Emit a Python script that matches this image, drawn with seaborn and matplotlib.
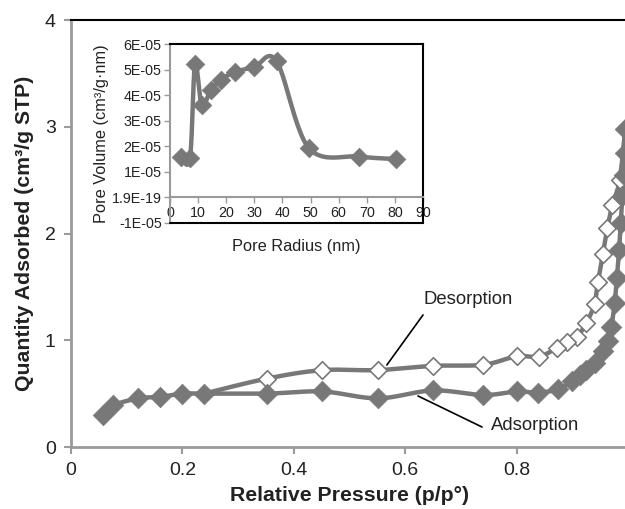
import numpy as np
import pandas as pd
import matplotlib
matplotlib.use("Agg")
import matplotlib.pyplot as plt
import seaborn as sns
from matplotlib.ticker import FixedLocator, FixedFormatter

sns.set_theme(style="white")
plt.rcParams['font.family'] = ['Liberation Sans', 'DejaVu Sans']

# ---- main isotherm data ----
ads_x = [0.058, 0.076, 0.121, 0.16, 0.2, 0.239, 0.351, 0.451, 0.551, 0.65, 0.74, 0.80,
         0.838, 0.874, 0.90, 0.913, 0.925, 0.94, 0.955, 0.964, 0.97, 0.976, 0.980,
         0.984, 0.987, 0.990, 0.992, 0.994, 0.995]
ads_y = [0.30, 0.39, 0.456, 0.47, 0.50, 0.50, 0.50, 0.52, 0.456, 0.53, 0.487, 0.52,
         0.51, 0.54, 0.62, 0.67, 0.72, 0.79, 0.90, 0.99, 1.12, 1.35, 1.58,
         1.85, 2.1, 2.35, 2.55, 2.75, 2.98]
des_x = [0.995, 0.985, 0.972, 0.963, 0.955, 0.946, 0.94, 0.925, 0.908, 0.89, 0.873,
         0.84, 0.80, 0.74, 0.65, 0.551, 0.451, 0.351, 0.239]
des_y = [2.98, 2.50, 2.27, 2.05, 1.81, 1.55, 1.34, 1.16, 1.03, 0.98, 0.93,
         0.846, 0.85, 0.77, 0.76, 0.72, 0.72, 0.64, 0.50]
main_xticks = [0, 0.2, 0.4, 0.6, 0.8]
main_xticklabels = ["0", "0.2", "0.4", "0.6", "0.8"]
main_yticks = [0, 1, 2, 3, 4]
main_yticklabels = ["0", "1", "2", "3", "4"]

# ---- inset pore-size distribution ----
pore_r = [3.8, 7.1, 8.9, 11.3, 14.5, 18.1, 23.0, 30.0, 37.9, 49.4, 67.3, 80.4]
pore_v = [1.6e-5, 1.53e-5, 5.2e-5, 3.6e-5, 4.2e-5, 4.6e-5, 4.9e-5, 5.1e-5, 5.33e-5,
          1.93e-5, 1.6e-5, 1.5e-5]
inset_xticks = [0, 10, 20, 30, 40, 50, 60, 70, 80, 90]
inset_yticks = [-1e-5, 0, 1e-5, 2e-5, 3e-5, 4e-5, 5e-5, 6e-5]
inset_yticklabels = ["-1E-05", "1.9E-19", "1E-05", "2E-05", "3E-05", "4E-05", "5E-05", "6E-05"]

GRAY = "#787878"
AXGRAY = "#9a9a9a"
TXT = "#222222"


def smooth(xs, ys, sx, sy, n=24):
    """Catmull-Rom style smoothing (Excel 'smoothed line' look)."""
    P = np.column_stack([np.asarray(xs) / sx, np.asarray(ys) / sy])
    P = np.vstack([P[0], P, P[-1]])
    out = []
    for i in range(1, len(P) - 2):
        p0, p1, p2, p3 = P[i - 1], P[i], P[i + 1], P[i + 2]
        c1 = p1 + (p2 - p0) / 6
        c2 = p2 - (p3 - p1) / 6
        t = np.linspace(0, 1, n)[:, None]
        seg = ((1 - t) ** 3) * p1 + 3 * ((1 - t) ** 2) * t * c1 + 3 * (1 - t) * t ** 2 * c2 + t ** 3 * p2
        out.append(seg if i == 1 else seg[1:])
    S = np.vstack(out)
    return S[:, 0] * sx, S[:, 1] * sy


fig = plt.figure(figsize=(6.25, 5.09), dpi=100)
ax = fig.add_axes([71 / 625, 62 / 509, 557 / 625, 427 / 509])

# desorption
dsx, dsy = smooth(des_x, des_y, 1.0, 4.0)
sns.lineplot(x=dsx, y=dsy, ax=ax, sort=False, color=GRAY, lw=3.2, estimator=None)
sns.scatterplot(x=des_x[:-1], y=des_y[:-1], ax=ax, marker="D", s=80, facecolor="white",
                edgecolor=GRAY, linewidth=1.2, zorder=3)
# adsorption
asx, asy = smooth(ads_x, ads_y, 1.0, 4.0)
sns.lineplot(x=asx, y=asy, ax=ax, sort=False, color=GRAY, lw=3.2, estimator=None)
sns.scatterplot(x=ads_x, y=ads_y, ax=ax, marker="D", s=110, color=GRAY,
                edgecolor=GRAY, linewidth=0.5, zorder=4)

ax.set_xlim(0, 1.0)
ax.set_ylim(0, 4)
ax.xaxis.set_major_locator(FixedLocator(main_xticks))
ax.xaxis.set_major_formatter(FixedFormatter(main_xticklabels))
ax.yaxis.set_major_locator(FixedLocator(main_yticks))
ax.yaxis.set_major_formatter(FixedFormatter(main_yticklabels))
ax.tick_params(axis="both", direction="out", length=5, width=1.5, color=AXGRAY,
               labelsize=14, labelcolor=TXT, pad=6, bottom=True, left=True)
for s in ["left", "bottom"]:
    ax.spines[s].set_color(AXGRAY)
    ax.spines[s].set_linewidth(2)
ax.spines["top"].set_color("black")
ax.spines["top"].set_linewidth(1.5)
ax.spines["right"].set_visible(False)
ax.set_xlabel("Relative Pressure (p/p°)", fontsize=15.3, fontweight="bold", color=TXT, labelpad=5)
ax.set_ylabel("Quantity Adsorbed (cm³/g STP)", fontsize=15.3, fontweight="bold", color=TXT, labelpad=8)

# annotations
ax.text(0.713, 1.386, "Desorption", fontsize=13.3, ha="center", va="center", color=TXT)
ax.annotate("", xy=(0.567, 0.768), xytext=(0.632, 1.237),
            arrowprops=dict(arrowstyle="-", color="black", lw=1.2, shrinkA=0, shrinkB=0))
ax.text(0.833, 0.206, "Adsorption", fontsize=13.3, ha="center", va="center", color=TXT)
ax.annotate("", xy=(0.623, 0.478), xytext=(0.738, 0.187),
            arrowprops=dict(arrowstyle="-", color="black", lw=1.2, shrinkA=0, shrinkB=0))

# ---- inset ----
ai = fig.add_axes([170 / 625, (509 - 223) / 509, 253 / 625, 179 / 509])
pvx, pvy = smooth(pore_r, pore_v, 90.0, 7e-5)
sns.lineplot(x=pvx, y=pvy, ax=ai, sort=False, color=GRAY, lw=3.2, estimator=None)
sns.scatterplot(x=pore_r, y=pore_v, ax=ai, marker="D", s=90, color=GRAY,
                edgecolor=GRAY, linewidth=0.5, zorder=4)
ai.set_xlim(0, 90)
ai.set_ylim(-1e-5, 6e-5)
ai.xaxis.set_major_locator(FixedLocator(inset_xticks))
ai.xaxis.set_major_formatter(FixedFormatter([str(v) for v in inset_xticks]))
ai.yaxis.set_major_locator(FixedLocator(inset_yticks))
ai.yaxis.set_major_formatter(FixedFormatter(inset_yticklabels))
ai.spines["bottom"].set_position(("data", 0))
ai.spines["bottom"].set_color(AXGRAY)
ai.spines["bottom"].set_linewidth(1.5)
ai.spines["left"].set_color(AXGRAY)
ai.spines["left"].set_linewidth(1.5)
for s in ["top", "right"]:
    ai.spines[s].set_color("black")
    ai.spines[s].set_linewidth(1.5)
ai.plot([0, 1], [0, 0], transform=ai.transAxes, color="black", lw=1.5, clip_on=False, zorder=5)
ai.tick_params(axis="both", direction="out", length=4, width=1, color=AXGRAY,
               labelsize=10.3, labelcolor=TXT, pad=2, bottom=True, left=True)
ai.set_xlabel("Pore Radius (nm)", fontsize=11.8, color=TXT, labelpad=14)
ai.set_ylabel("Pore Volume (cm³/g·nm)", fontsize=11.8, color=TXT, labelpad=2)

fig.savefig("out.png", dpi=100)
